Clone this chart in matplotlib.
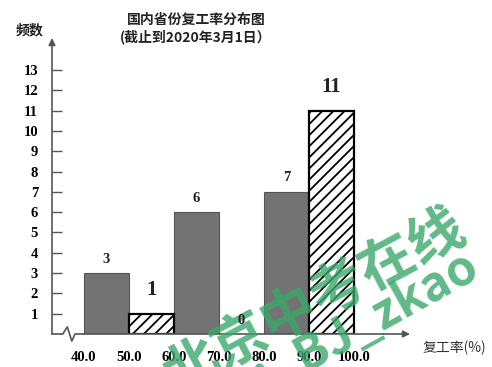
import numpy as np
import matplotlib
matplotlib.use("Agg")
import matplotlib.pyplot as plt

# data
bin_left = [40, 50, 60, 70, 80, 90]
counts = [3, 1, 6, 0, 7, 11]
hatched = [False, True, False, False, False, True]
xtick_vals = [40, 50, 60, 70, 80, 90, 100]
xtick_labels = ["40.0", "50.0", "60.0", "70.0", "80.0", "90.0", "100.0"]
ytick_vals = list(range(1, 14))
big_label = [False, True, False, False, False, True]

W, H = 492, 367
SERIF = ["Liberation Serif", "DejaVu Serif"]
CJK = ["Noto Sans CJK SC", "DejaVu Sans"]

plt.rcParams["hatch.linewidth"] = 1.3

fig = plt.figure(figsize=(W / 100, H / 100), dpi=100)
ax = fig.add_axes([52 / W, 1 - 334 / H, 358 / W, 296 / H])
ax.set_xlim(32.9, 112.4)
ax.set_ylim(0, 14.58)
for s in ax.spines.values():
    s.set_visible(False)

gray = "#737373"
for x0, c, h in zip(bin_left, counts, hatched):
    if c == 0:
        continue
    if h:
        ax.bar(x0, c, width=10, align="edge", facecolor="white", edgecolor="black",
               hatch="///", linewidth=1.6, zorder=3)
    else:
        ax.bar(x0, c, width=10, align="edge", facecolor=gray, edgecolor="#555555",
               linewidth=0.8, zorder=2)

for x0, c, big in zip(bin_left, counts, big_label):
    fs = 15 if big else 10.5
    off = 17 if big else 10
    ax.annotate(str(c), (x0 + 5, c), xytext=(0, off), textcoords="offset points",
                ha="center", va="center", fontsize=fs, fontweight="bold",
                family=SERIF, color="#222222", zorder=7)

# y axis with arrow
ax.annotate("", xy=(0, 1), xytext=(0, 0), xycoords="axes fraction",
            arrowprops=dict(arrowstyle="-|>", color="#555555", lw=1.2,
                            mutation_scale=10, shrinkA=0, shrinkB=0))
# x axis with break and arrow
zx = [32.9, 35.3, 36.3, 37.3, 38.0, 40.0]
zy = [0, 0, 0.35, -0.35, 0, 0]
ax.plot(zx, zy, color="#555555", lw=1.2, clip_on=False, zorder=4)
ax.annotate("", xy=(112.4, 0), xytext=(40.0, 0), xycoords="data",
            arrowprops=dict(arrowstyle="-|>", color="#555555", lw=1.2,
                            mutation_scale=10, shrinkA=0, shrinkB=0))

ax.set_yticks(ytick_vals)
ax.set_yticklabels([str(v) for v in ytick_vals], family=SERIF, fontweight="bold",
                   fontsize=10.5)
ax.tick_params(axis="y", direction="in", length=7, width=1, color="#555555", pad=10)
ax.set_xticks(xtick_vals)
ax.set_xticklabels(xtick_labels, family=SERIF, fontweight="bold", fontsize=10.5)
ax.tick_params(axis="x", length=0, pad=12)

def ftext(x, y, s, **kw):
    ax.text(x / W, 1 - y / H, s, transform=fig.transFigure, clip_on=False, **kw)

ftext(30, 30, "频数", family=CJK, fontsize=10, fontweight="bold",
      ha="center", va="center", color="#222222")
ftext(196, 20, "国内省份复工率分布图", family=CJK, fontsize=10, fontweight="bold",
      ha="center", va="center", color="#222222")
ftext(196, 37, "(截止到2020年3月1日）", family=CJK, fontsize=10, fontweight="bold",
      ha="center", va="center", color="#222222")
ftext(454, 348, "复工率(%)", family=CJK, fontsize=10, ha="center", va="center",
      color="#333333")

# watermark
wm = "#3aa86a"
ftext(470, 238, "北京中考在线", family=CJK, fontsize=40, fontweight="bold",
      color=wm, alpha=0.8, rotation=28, rotation_mode="anchor",
      ha="right", va="baseline", zorder=5)
ftext(482, 276, "微信号：BJ_zkao", family=CJK, fontsize=35, fontweight="bold",
      color=wm, alpha=0.8, rotation=29, rotation_mode="anchor",
      ha="right", va="baseline", zorder=5)

fig.savefig("out.png", dpi=100)
